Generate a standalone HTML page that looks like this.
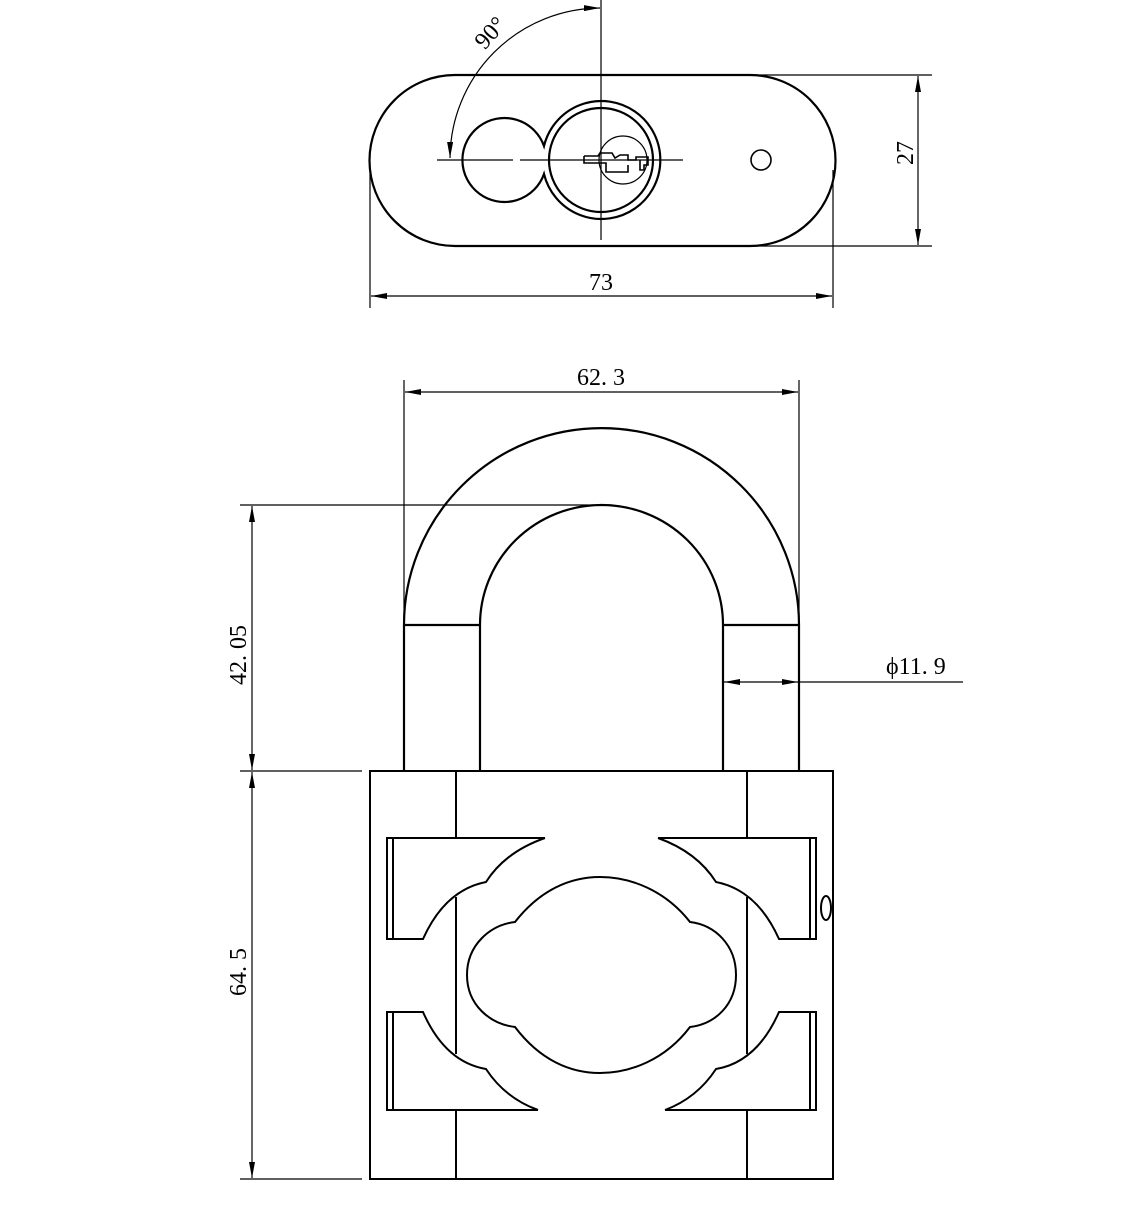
<!DOCTYPE html>
<html><head><meta charset="utf-8"><style>html,body{margin:0;padding:0;background:#fff}svg{display:block}</style></head><body>
<svg width="1139" height="1229" viewBox="0 0 1139 1229" xmlns="http://www.w3.org/2000/svg" font-family="Liberation Serif, serif" font-size="24" fill="none" stroke="#000">
<defs>
<marker id="a" viewBox="0 0 16 6" refX="16" refY="3" markerWidth="16" markerHeight="6" markerUnits="userSpaceOnUse" orient="auto-start-reverse"><path d="M0 0 L16 3 L0 6 Z" fill="#000" stroke="none"/></marker>
</defs>
<!-- TOP VIEW -->
<g stroke-width="2.2">
<path d="M455 75 L750 75 A85.5 85.5 0 0 1 750 246 L455 246 A85.5 85.5 0 0 1 455 75 Z"/>
<path d="M544 146 A42 42 0 1 0 544 174 A59 59 0 1 0 544 146 Z"/>
<circle cx="601" cy="160" r="52"/>
<circle cx="761" cy="160" r="10" stroke-width="1.6"/>
</g>
<circle cx="623" cy="160" r="24" stroke-width="1.2"/>
<path d="M584 156 L598 156 L600 153 L612 153 L615 158 L620 155 L628 155 L628 160 L636 160 L636 157 L648 157 L648 165 L644 165 L644 170 L640 170 L640 160 M584 156 L584 163 L606 163 L606 172 L628 172 L628 165" stroke-width="1.6"/>
<g stroke-width="1.2">
<line x1="601" y1="0" x2="601" y2="240"/>
<line x1="437" y1="160" x2="513" y2="160"/>
<line x1="520" y1="160" x2="683" y2="160"/>
<path d="M450 158 A151 151 0 0 1 600 8" marker-start="url(#a)" marker-end="url(#a)"/>
<line x1="370" y1="170" x2="370" y2="308"/>
<line x1="833" y1="170" x2="833" y2="308"/>
<line x1="371" y1="296" x2="832" y2="296" marker-start="url(#a)" marker-end="url(#a)"/>
<line x1="750" y1="75" x2="932" y2="75"/>
<line x1="750" y1="246" x2="932" y2="246"/>
<line x1="918" y1="76" x2="918" y2="245" marker-start="url(#a)" marker-end="url(#a)"/>
</g>
<g fill="#000" stroke="none">
<text x="601" y="290" text-anchor="middle">73</text>
<text transform="translate(913 153) rotate(-90)" text-anchor="middle">27</text>
<text transform="translate(496 38) rotate(-48)" text-anchor="middle">90°</text>
</g>
<!-- SHACKLE -->
<g stroke-width="2.2">
<path d="M404 771 L404 625 A197.5 197 0 0 1 799 625 L799 771"/>
<path d="M480 771 L480 625 A121.5 120 0 0 1 723 625 L723 771"/>
<line x1="404" y1="625" x2="480" y2="625"/>
<line x1="723" y1="625" x2="799" y2="625"/>
</g>
<!-- BODY -->
<g stroke-width="2">
<rect x="370" y="771" width="463" height="408"/>
<line x1="456" y1="771" x2="456" y2="838"/><line x1="747" y1="771" x2="747" y2="838"/>
<line x1="456" y1="1110" x2="456" y2="1179"/><line x1="747" y1="1110" x2="747" y2="1179"/>
<line x1="456" y1="897" x2="456" y2="1054"/><line x1="747" y1="897" x2="747" y2="1054"/>
<path d="M545 838 L387 838 L387 939 L423 939 Q445 890 486 882 Q505 852 545 838"/>
<line x1="393" y1="838" x2="393" y2="939"/>
<path d="M658 838 L816 838 L816 939 L779 939 Q757 890 716 882 Q697 852 658 838"/>
<line x1="810" y1="838" x2="810" y2="939"/>
<path d="M538 1110 L387 1110 L387 1012 L423 1012 Q445 1062 486 1069 Q505 1098 538 1110"/>
<line x1="393" y1="1012" x2="393" y2="1110"/>
<path d="M665 1110 L816 1110 L816 1012 L779 1012 Q757 1062 716 1069 Q697 1098 665 1110"/>
<line x1="810" y1="1012" x2="810" y2="1110"/>
<path d="M467 975 C467 945 490 925 515 922 C540 890 570 877 600 877 C630 877 665 890 690 922 C715 925 736 945 736 975 C736 1005 715 1024 690 1027 C665 1060 630 1073 600 1073 C570 1073 540 1060 515 1027 C490 1024 467 1005 467 975 Z"/>
<ellipse cx="826" cy="908" rx="5" ry="12"/>
</g>
<!-- DIMENSIONS -->
<g stroke-width="1.2">
<line x1="404" y1="380" x2="404" y2="625"/>
<line x1="799" y1="380" x2="799" y2="625"/>
<line x1="405" y1="392" x2="798" y2="392" marker-start="url(#a)" marker-end="url(#a)"/>
<line x1="240" y1="505" x2="600" y2="505"/>
<line x1="240" y1="771" x2="362" y2="771"/>
<line x1="240" y1="1179" x2="362" y2="1179"/>
<line x1="252" y1="506" x2="252" y2="770" marker-start="url(#a)" marker-end="url(#a)"/>
<line x1="252" y1="772" x2="252" y2="1178" marker-start="url(#a)" marker-end="url(#a)"/>
<line x1="760" y1="682" x2="724" y2="682" marker-end="url(#a)"/>
<line x1="760" y1="682" x2="798" y2="682" marker-end="url(#a)"/>
<line x1="799" y1="682" x2="963" y2="682"/>
</g>
<g fill="#000" stroke="none">
<text x="601" y="385" text-anchor="middle">62. 3</text>
<text transform="translate(246 655) rotate(-90)" text-anchor="middle">42. 05</text>
<text transform="translate(246 972) rotate(-90)" text-anchor="middle">64. 5</text>
<text x="886" y="674">ϕ11. 9</text>
</g>
</svg>
</body></html>
